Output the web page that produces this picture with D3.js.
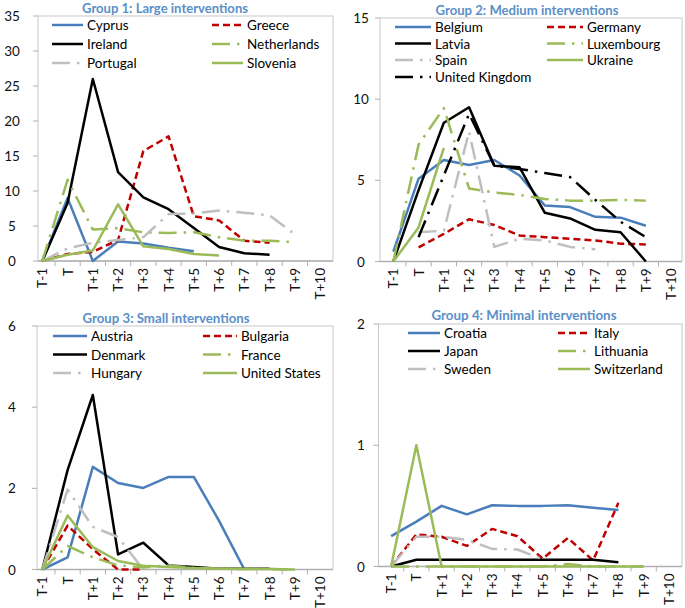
<!DOCTYPE html>
<html><head><meta charset="utf-8">
<script src="https://cdn.jsdelivr.net/npm/d3@7"></script>
<style>
body{margin:0;background:#fff}
svg{display:block}
text{font-family:Lato,"Open Sans",sans-serif}
</style>
</head><body>
<svg id="c" width="685" height="608"></svg>
<script>
// ---------- data ----------
const periods = ["T-1","T","T+1","T+2","T+3","T+4","T+5","T+6","T+7","T+8","T+9","T+10"];

// Group 1
const g1Title = "Group 1: Large interventions";
const g1Names = ["Cyprus","Greece","Ireland","Netherlands","Portugal","Slovenia"];
const g1Ticks = [0,5,10,15,20,25,30,35];
const cyprus      = [0, 9.0, 0, 2.8, 2.5, 1.9, 1.4];
const greece      = [0, 1.0, 1.3, 3.0, 15.7, 17.8, 6.4, 5.8, 2.9, 2.6];
const ireland     = [0, 8.3, 26.0, 12.7, 9.1, 7.4, 4.7, 2.0, 1.1, 0.9];
const netherlands = [0, 11.6, 4.5, 4.7, 4.1, 4.0, 4.1, 3.4, 2.9, 2.9, 2.7];
const portugal    = [0, 1.8, 2.6, 3.0, 3.4, 6.7, 6.8, 7.2, 6.9, 6.5, 3.8];
const slovenia    = [0, 0.9, 1.5, 8.1, 2.1, 1.7, 1.0, 0.8];

// Group 2
const g2Title = "Group 2: Medium interventions";
const g2Names = ["Belgium","Germany","Latvia","Luxembourg","Spain","Ukraine","United Kingdom"];
const g2Ticks = [0,5,10,15];
const belgium    = [0.6, 5.1, 6.25, 5.95, 6.25, 5.3, 3.45, 3.35, 2.75, 2.7, 2.2];
const germany    = [null, 0.87, 1.7, 2.6, 2.25, 1.6, 1.5, 1.4, 1.3, 1.1, 1.05];
const latvia     = [0, 4.4, 8.55, 9.5, 5.9, 5.8, 3.0, 2.65, 1.95, 1.8, 0];
const luxembourg = [0, 7.2, 9.45, 4.5, 4.25, 4.1, 3.85, 3.75, 3.75, 3.8, 3.75];
const spain      = [null, 1.8, 1.9, 8.0, 0.9, 1.4, 1.3, 0.9, 0.75];
const ukraine    = [0, 2.1, 7.0];
const unitedKingdom = [null, 1.5, 5.3, 9.1, 5.9, 5.7, 5.45, 5.2, 3.8, 2.45, 1.5];

// Group 3
const g3Title = "Group 3: Small interventions";
const g3Names = ["Austria","Bulgaria","Denmark","France","Hungary","United States"];
const g3Ticks = [0,2,4,6];
const austria  = [0, 0.3, 2.53, 2.13, 2.01, 2.28, 2.28, 1.2, 0];
const bulgaria = [0, 1.08, 0.5, 0, 0];
const denmark  = [0, 2.45, 4.3, 0.37, 0.66, 0.1, 0.06, 0.02, 0.02, 0.02];
const france   = [0, 0.58, 0.3, 0.1, 0.05, 0.1, 0.04, 0.02, 0.01, 0.01, 0];
const hungary  = [0, 1.97, 1.05, 0.8, 0];
const unitedStates = [0, 1.33, 0.55, 0.21, 0.09, 0.06, 0.04, 0.02, 0.01, 0.01, 0];

// Group 4
const g4Title = "Group 4: Minimal interventions";
const g4Names = ["Croatia","Italy","Japan","Lithuania","Sweden","Switzerland"];
const g4Ticks = [0,1,2];
const croatia     = [0.25, 0.37, 0.5, 0.43, 0.505, 0.5, 0.5, 0.505, 0.485, 0.465];
const italy       = [0, 0.265, 0.245, 0.17, 0.31, 0.25, 0.065, 0.235, 0.05, 0.525];
const japan       = [0, 0.055, 0.055, 0.055, 0.055, 0.055, 0.055, 0.055, 0.055, 0.035];
const lithuania   = [0, 0, 0, 0, 0, 0, 0, 0.02, 0, 0, 0];
const sweden      = [0, 0.245, 0.245, 0.22, 0.145, 0.14, 0.06];
const switzerland = [0, 1.0, 0, 0, 0, 0, 0, 0, 0, 0, 0];

// ---------- styles / layout ----------
const ldd = "18,7,2.5,7";
const styles = [
  {color:"#4a7ebb", dash:null},
  {color:"#c00000", dash:"7,4"},
  {color:"#000000", dash:null},
  {color:"#9bbb59", dash:ldd},
  {color:"#bfbfbf", dash:ldd},
  {color:"#9bbb59", dash:null},
  {color:"#000000", dash:ldd}
];

const panels = [
  {title:g1Title, names:g1Names, ticks:g1Ticks,
   series:[cyprus,greece,ireland,netherlands,portugal,slovenia],
   box:{l:38,r:333,t:16,b:261}, band0:29.7, yLab:12, tX:165, tY:7.5, tW:166,
   leg:{c1:52, c2:212, len:31, rows:[25,44,63]}},
  {title:g2Title, names:g2Names, ticks:g2Ticks,
   series:[belgium,germany,latvia,luxembourg,spain,ukraine,unitedKingdom],
   box:{l:380,r:682,t:18,b:261.5}, band0:380.7, yLab:361, tX:527, tY:9.5, tW:183,
   leg:{c1:395, c2:547, len:36, rows:[27,43.5,60,77]}},
  {title:g3Title, names:g3Names, ticks:g3Ticks,
   series:[austria,bulgaria,denmark,france,hungary,unitedStates],
   box:{l:37,r:333,t:326,b:569.5}, band0:29.7, yLab:12, tX:166, tY:318, tW:167,
   leg:{c1:53, c2:203, len:34, rows:[336,354.5,373]}},
  {title:g4Title, names:g4Names, ticks:g4Ticks,
   series:[croatia,italy,japan,lithuania,sweden,switzerland],
   box:{l:378.5,r:682,t:324,b:566.5}, band0:378.5, yLab:361, tX:524, tY:315, tW:185,
   leg:{c1:408, c2:558, len:32, rows:[333,351,369]}}
];

const bandW = 25.25;
const svg = d3.select("#c");

panels.forEach(p => {
  const g = svg.append("g");
  const x = d3.scaleBand().domain(periods).range([p.band0, p.band0 + bandW*periods.length]).padding(0);
  const cx = d => x(d) + x.bandwidth()/2;
  const y = d3.scaleLinear().domain([0, d3.max(p.ticks)]).range([p.box.b, p.box.t]);

  // frame
  g.append("rect").attr("x",p.box.l).attr("y",p.box.t)
    .attr("width",p.box.r-p.box.l).attr("height",p.box.b-p.box.t)
    .attr("fill","none").attr("stroke","#c8c8c8").attr("stroke-width",1);
  g.append("line").attr("x1",p.box.l).attr("x2",p.box.r).attr("y1",p.box.b).attr("y2",p.box.b)
    .attr("stroke","#b0b0b0").attr("stroke-width",1.3);

  // y axis ticks & labels
  p.ticks.forEach(t => {
    g.append("line").attr("x1",p.box.l-5).attr("x2",p.box.l).attr("y1",y(t)).attr("y2",y(t))
      .attr("stroke","#b0b0b0");
    g.append("text").attr("x",p.yLab).attr("y",y(t)).attr("text-anchor","middle")
      .attr("dominant-baseline","central").attr("font-size",13.5).attr("fill","#111").text(t);
  });

  // x ticks between categories & labels
  periods.forEach((d,i) => {
    const xb = x(d);
    if (i > 0) g.append("line").attr("x1",xb).attr("x2",xb).attr("y1",p.box.b).attr("y2",p.box.b+5)
      .attr("stroke","#b0b0b0");
    g.append("text")
      .attr("transform",`translate(${cx(d)},${p.box.b+7}) rotate(-90)`)
      .attr("text-anchor","end").attr("dominant-baseline","central")
      .attr("font-size",13.5).attr("fill","#111").text(d);
  });

  // series
  const line = d3.line().defined(v => v != null).x((v,i) => cx(periods[i])).y(v => y(v));
  p.series.forEach((s,k) => {
    const st = styles[k];
    g.append("path").datum(s).attr("d",line).attr("fill","none")
      .attr("stroke",st.color).attr("stroke-width",2.5)
      .attr("stroke-dasharray",st.dash).attr("stroke-linejoin","round");
  });

  // legend
  p.names.forEach((n,k) => {
    const col = k % 2, row = Math.floor(k/2);
    const lx = col === 0 ? p.leg.c1 : p.leg.c2;
    const ly = p.leg.rows[row];
    const st = styles[k];
    g.append("line").attr("x1",lx).attr("x2",lx+p.leg.len).attr("y1",ly).attr("y2",ly)
      .attr("stroke",st.color).attr("stroke-width",2.5).attr("stroke-dasharray",st.dash);
    g.append("text").attr("x",lx+p.leg.len+4).attr("y",ly).attr("dominant-baseline","central")
      .attr("font-size",13.5).attr("fill","#000").text(n);
  });

  // title
  g.append("text").attr("x",p.tX).attr("y",p.tY).attr("text-anchor","middle")
    .attr("dominant-baseline","central").attr("font-size",13).attr("font-weight","bold")
    .attr("textLength",p.tW).attr("lengthAdjust","spacingAndGlyphs")
    .attr("fill","#5a8fc8").text(p.title);
});
</script>
</body></html>
